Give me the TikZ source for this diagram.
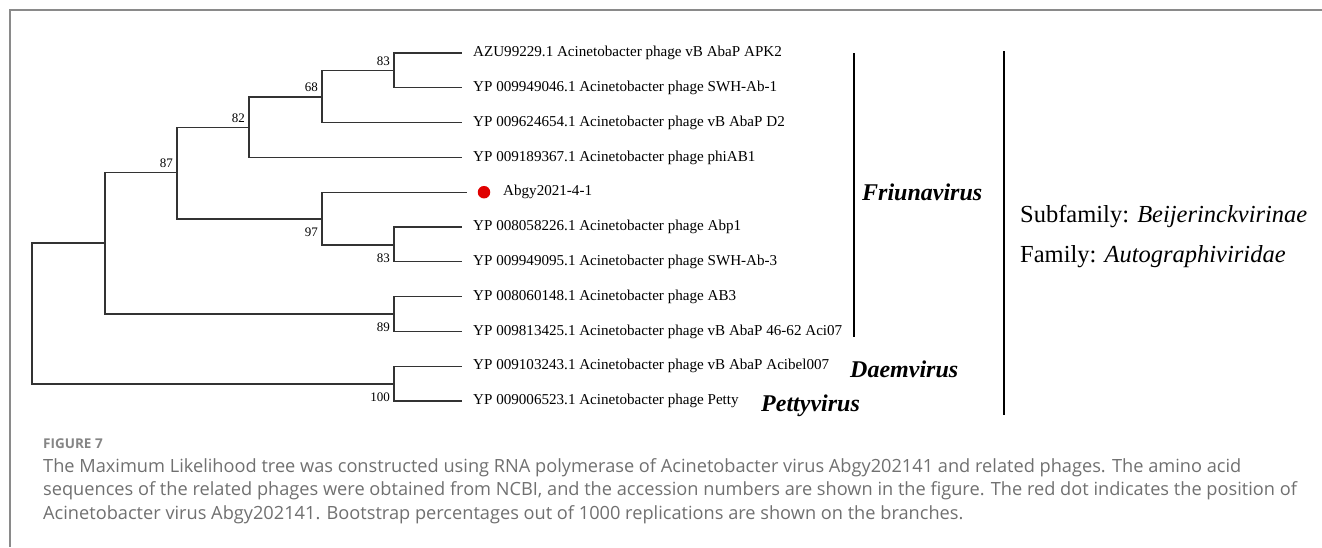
\documentclass[tikz,border=0pt]{standalone}
\usepackage{fontspec}
\setmainfont{Liberation Serif}
\newfontfamily\capfont{Open Sans}
\definecolor{branchc}{HTML}{333333}
\definecolor{framec}{HTML}{8A8A8A}
\definecolor{capc}{HTML}{707070}
\definecolor{dotred}{HTML}{E00000}
\begin{document}
\begin{tikzpicture}[x=1pt,y=-1pt,
  br/.style={draw=branchc,line width=1.3pt},
  leafnode/.style={anchor=west,inner xsep=11pt,inner ysep=0pt,text=black,font=\fontsize{15.1}{18}\selectfont},
  bsu/.style={anchor=base east,inner sep=0pt,font=\fontsize{13}{15}\selectfont},
  genus/.style={anchor=base west,inner sep=0pt,font=\fontsize{24}{28}\selectfont\bfseries\itshape},
  taxon/.style={anchor=base west,inner sep=0pt,font=\fontsize{24.5}{28}\selectfont},
  bar/.style={draw=black,line width=2.4pt},
  framel/.style={draw=framec,line width=2pt},
  capline/.style={anchor=base west,inner sep=0pt,text=capc,font=\capfont\fontsize{18.2}{21}\selectfont},
  capfig/.style={anchor=base west,inner sep=0pt,text=capc!85,font=\capfont\bfseries\fontsize{13.5}{16}\selectfont}
]
\useasboundingbox (0,0) rectangle (1322,547);
\draw[framel] (1322,10) -- (10,10) -- (10,547);

% internal nodes
\coordinate (R) at (32,313.5);
\coordinate (F) at (105,243);
\coordinate (N87) at (177,172.5);
\coordinate (N82) at (249,127.5);
\coordinate (N68) at (322,97);
\coordinate (N83a) at (394,70.5);
\coordinate (N97) at (322,219);
\coordinate (N83b) at (394,245);
\coordinate (N89) at (394,314);
\coordinate (N100) at (394,384);

% leaves
\node[leafnode] (L1) at (462,53) {AZU99229.1 Acinetobacter phage vB AbaP APK2};
\node[leafnode] (L2) at (462,87.8) {YP 009949046.1 Acinetobacter phage SWH-Ab-1};
\node[leafnode] (L3) at (462,122.6) {YP 009624654.1 Acinetobacter phage vB AbaP D2};
\node[leafnode] (L4) at (462,157.4) {YP 009189367.1 Acinetobacter phage phiAB1};
\coordinate (L5) at (467,192.2);
\node[circle,fill=dotred,inner sep=0pt,minimum size=12.5pt] (dot) at (484,192.2) {};
\node[anchor=west,inner sep=0pt,font=\fontsize{15.1}{18}\selectfont] (L5t) at (503,192.2) {Abgy2021-4-1};
\node[leafnode] (L6) at (462,227) {YP 008058226.1 Acinetobacter phage Abp1};
\node[leafnode] (L7) at (462,261.8) {YP 009949095.1 Acinetobacter phage SWH-Ab-3};
\node[leafnode] (L8) at (462,296.6) {YP 008060148.1 Acinetobacter phage AB3};
\node[leafnode] (L9) at (462,331.4) {YP 009813425.1 Acinetobacter phage vB AbaP 46-62 Aci07};
\node[leafnode] (L10) at (462,366.2) {YP 009103243.1 Acinetobacter phage vB AbaP Acibel007};
\node[leafnode] (L11) at (462,401) {YP 009006523.1 Acinetobacter phage Petty};

% branches
\draw[br] (R) |- (F);
\draw[br] (R) |- (N100);
\draw[br] (F) |- (N87);
\draw[br] (F) |- (N89);
\draw[br] (N87) |- (N82);
\draw[br] (N87) |- (N97);
\draw[br] (N82) |- (N68);
\draw[br] (N82) |- (L4.west);
\draw[br] (N68) |- (N83a);
\draw[br] (N68) |- (L3.west);
\draw[br] (N83a) |- (L1.west);
\draw[br] (N83a) |- (L2.west);
\draw[br] (N97) |- (L5);
\draw[br] (N97) |- (N83b);
\draw[br] (N83b) |- (L6.west);
\draw[br] (N83b) |- (L7.west);
\draw[br] (N89) |- (L8.west);
\draw[br] (N89) |- (L9.west);
\draw[br] (N100) |- (L10.west);
\draw[br] (N100) |- (L11.west);

% bootstrap values
\node[bsu] (b87) at ([shift={(-4,-5.5)}]N87) {87};
\node[bsu] (b82) at ([shift={(-4,-5.5)}]N82) {82};
\node[bsu] (b68) at ([shift={(-4,-5.5)}]N68) {68};
\node[bsu] (b83a) at ([shift={(-4,-5.5)}]N83a) {83};
\node[bsu] (b97) at ([shift={(-4,17)}]N97) {97};
\node[bsu] (b83b) at ([shift={(-4,17)}]N83b) {83};
\node[bsu] (b89) at ([shift={(-4,17)}]N89) {89};
\node[bsu] (b100) at ([shift={(-4,17)}]N100) {100};

% clade bars and names
\draw[bar] (854,53) -- (854,337);
\draw[bar] (1004,51) -- (1004,415);
\node[genus] (fri) at (862,200) {Friunavirus};
\node[genus] (dae) at (850,377) {Daemvirus};
\node[genus] (pet) at (761,411) {Pettyvirus};
\node[taxon] (sub) at (1020,222) {Subfamily: \textit{Beijerinckvirinae}};
\node[taxon] (fam) at (1020,262) {Family: \textit{Autographiviridae}};

% caption
\node[capfig] (fig) at (43,448) {FIGURE 7};
\node[capline] (c1) at (43,472) {The Maximum Likelihood tree was constructed using RNA polymerase of Acinetobacter virus Abgy202141 and related phages. The amino acid};
\node[capline] (c2) at (43,495.5) {sequences of the related phages were obtained from NCBI, and the accession numbers are shown in the figure. The red dot indicates the position of};
\node[capline] (c3) at (43,519) {Acinetobacter virus Abgy202141. Bootstrap percentages out of 1000 replications are shown on the branches.};
\end{tikzpicture}
\end{document}
